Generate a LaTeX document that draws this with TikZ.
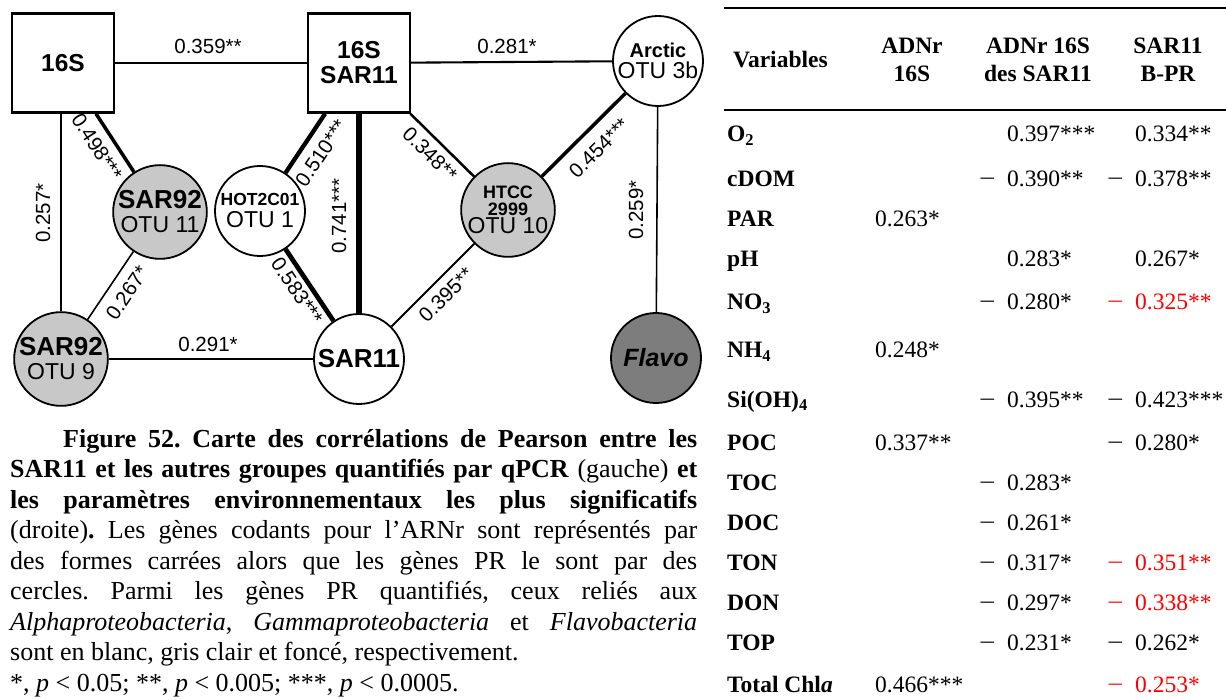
\documentclass[tikz,border=0pt]{standalone}
\usepackage{fontspec}
\setmainfont{Liberation Serif}
\newfontfamily\arial{Liberation Sans}
\definecolor{lightg}{RGB}{200,200,200}
\definecolor{darkg}{RGB}{125,125,125}
\definecolor{redv}{RGB}{255,0,0}
\newcommand\fsz[1]{\fontsize{#1}{#1}\selectfont}
\newcommand\mn{\makebox[27pt][l]{\hspace*{-1pt}\scalebox{1.25}[1]{−}}}
\newcommand\pz{\hspace*{27pt}}
\newcommand\capline[1]{\hbox to 687pt{#1}}
\frenchspacing
\begin{document}
\begin{tikzpicture}[x=1pt,y=-1pt,
  sq/.style={draw, line width=2.4pt, minimum width=102pt, minimum height=99pt, inner sep=0pt, fill=white, align=center, font=\arial\bfseries\fontsize{24.5}{25}\selectfont},
  pr/.style={circle, draw, line width=1.8pt, minimum size=90pt, inner sep=0pt, fill=white, align=center, font=\arial\fontsize{23}{24}\selectfont},
  gl/.style={fill=lightg}, gd/.style={fill=darkg},
  lbl/.style={font=\arial\fontsize{20.5}{20.5}\selectfont, inner sep=0pt},
  wa/.style={line width=1.6pt}, wb/.style={line width=2.1pt}, wc/.style={line width=2.5pt},
  wd/.style={line width=3.5pt}, we/.style={line width=4.3pt}, wf/.style={line width=6pt},
  capl/.style={anchor=base west, inner sep=0pt, font=\fontsize{26}{30}\selectfont},
  tb/.style={anchor=base west, inner sep=0pt, font=\fontsize{23.5}{26}\selectfont},
  tbh/.style={anchor=base, inner sep=0pt, font=\bfseries\fontsize{23.5}{26}\selectfont},
  tbl/.style={anchor=base west, inner sep=0pt, font=\bfseries\fontsize{23.5}{26}\selectfont},
  rl/.style={line width=2pt}
]
\useasboundingbox (0,0) rectangle (1226,700);

% ---------- graph nodes ----------
\node[sq] (s16) at (63,63) {16S};
\node[sq] (s16sar) at (359,63) {16S\\SAR11};
\node[pr] (arc) at (658,61) {{\bfseries\fsz{20}Arctic}\\[-3pt]OTU 3b};
\node[pr,gl] (o11) at (160,212) {{\bfseries\fsz{26}SAR92}\\OTU 11};
\node[pr] (hot) at (260,211) {{\bfseries\fsz{17.5}HOT2C01}\\[-2pt]OTU 1};
\node[pr,gl,font=\arial\bfseries\fontsize{18}{17}\selectfont] (htcc) at (508,210) {HTCC\\2999\\[1pt]{\mdseries\fsz{23}OTU 10}};
\node[pr,gl] (o9) at (61,359) {{\bfseries\fsz{26}SAR92}\\OTU 9};
\node[pr,font=\arial\bfseries\fsz{26}] (sar11) at (359,359) {SAR11};
\node[pr,gd,font=\arial\bfseries\itshape\fsz{25}] (flavo) at (656,358) {Flavo};

% ---------- connectors ----------
\draw[wb] (s16) -- (s16sar);
\draw[wb] (s16sar) -- (arc);
\draw[wa] (s16.south -| o9) -- (o9);
\draw[wd] (s16) -- (o11);
\draw[wa] (o11) -- (o9);
\draw[wb] (o9) -- (sar11);
\draw[we] (s16sar) -- (hot);
\draw[wf] (s16sar) -- (sar11);
\draw[we,line width=4.7pt] (hot) -- (sar11);
\draw[wc] (s16sar) -- (htcc);
\draw[wb] (htcc) -- (sar11);
\draw[wd] (htcc) -- (arc);
\draw[wa] (arc) -- (flavo);

% ---------- correlation labels ----------
\node[lbl] (l359) at (208,46) {0.359**};
\node[lbl] (l281) at (507,46) {0.281*};
\node[lbl] (l291) at (208,344) {0.291*};
\node[lbl,rotate=90] (l257) at (43,213) {0.257*};
\node[lbl,rotate=90] (l741) at (339,216) {0.741***};
\node[lbl,rotate=90] (l259) at (636,210) {0.259*};
\node[lbl,rotate=-57] (l498) at (97,147) {0.498***};
\node[lbl,rotate=56] (l267) at (127,293) {0.267*};
\node[lbl,rotate=56] (l510) at (321,153) {0.510***};
\node[lbl,rotate=-56] (l583) at (297,291) {0.583***};
\node[lbl,rotate=-45] (l348) at (430,154) {0.348**};
\node[lbl,rotate=45] (l395) at (446,295) {0.395**};
\node[lbl,rotate=45] (l454) at (599,148) {0.454***};

% ---------- caption ----------
\node[capl] (c1) at (10,447) {\capline{\hspace*{53pt}\textbf{Figure 52. Carte des corrélations de Pearson entre les}}};
\node[capl] (c2) at (10,477.5) {\capline{\textbf{SAR11 et les autres groupes quantifiés par qPCR} (gauche) \textbf{et}}};
\node[capl] (c3) at (10,508) {\capline{\textbf{les paramètres environnementaux les plus significatifs}}};
\node[capl] (c4) at (10,538.5) {\capline{(droite)\textbf{.} Les gènes codants pour l’ARNr sont représentés par}};
\node[capl] (c5) at (10,569) {\capline{des formes carrées alors que les gènes PR le sont par des}};
\node[capl] (c6) at (10,599.5) {\capline{cercles. Parmi les gènes PR quantifiés, ceux reliés aux}};
\node[capl] (c7) at (10,630) {\capline{\textit{Alphaproteobacteria}, \textit{Gammaproteobacteria} et \textit{Flavobacteria}}};
\node[capl] (c8) at (10,660.5) {\capline{sont en blanc, gris clair et foncé, respectivement.\hfil}};
\node[capl] (c9) at (10,691) {\capline{*, \textit{p} < 0.05; **, \textit{p} < 0.005; ***, \textit{p} < 0.0005.\hfil}};

% ---------- table ----------
\draw[rl] (724,8) -- (1226,8);
\draw[rl] (724,110) -- (1226,110);
\node[tbl] (hv) at (733,68) {Variables};
\node[tbh] (h1a) at (912,54) {ADNr};
\node[tbh] (h1b) at (912,82) {16S};
\node[tbh] (h2a) at (1038,54) {ADNr 16S};
\node[tbh] (h2b) at (1038,82) {des SAR11};
\node[tbh] (h3a) at (1168,54) {SAR11};
\node[tbh] (h3b) at (1168,82) {B-PR};

\node[tbl] (r1) at (727,142) {O\textsubscript{2}};
\node[tbl] (r2) at (727,187) {cDOM};
\node[tbl] (r3) at (727,227) {PAR};
\node[tbl] (r4) at (727,267) {pH};
\node[tbl] (r5) at (727,310) {NO\textsubscript{3}};
\node[tbl] (r6) at (727,358) {NH\textsubscript{4}};
\node[tbl] (r7) at (727,407) {Si(OH)\textsubscript{4}};
\node[tbl] (r8) at (727,450) {POC};
\node[tbl] (r9) at (727,490) {TOC};
\node[tbl] (r10) at (727,530) {DOC};
\node[tbl] (r11) at (727,570) {TON};
\node[tbl] (r12) at (727,610) {DON};
\node[tbl] (r13) at (727,650) {TOP};
\node[tbl] (r14) at (727,692) {Total Chl\textit{a}};

% column ADNr 16S
\node[tb] (a3) at (875,227) {0.263*};
\node[tb] (a6) at (875,358) {0.248*};
\node[tb] (a8) at (875,450) {0.337**};
\node[tb] (a14) at (875,692) {0.466***};

% column ADNr 16S des SAR11
\node[tb] (b1) at (980,142) {\pz0.397***};
\node[tb] (b2) at (980,187) {\mn0.390**};
\node[tb] (b4) at (980,267) {\pz0.283*};
\node[tb] (b5) at (980,310) {\mn0.280*};
\node[tb] (b7) at (980,407) {\mn0.395**};
\node[tb] (b9) at (980,490) {\mn0.283*};
\node[tb] (b10) at (980,530) {\mn0.261*};
\node[tb] (b11) at (980,570) {\mn0.317*};
\node[tb] (b12) at (980,610) {\mn0.297*};
\node[tb] (b13) at (980,650) {\mn0.231*};

% column SAR11 B-PR
\node[tb] (d1) at (1108,142) {\pz0.334**};
\node[tb] (d2) at (1108,187) {\mn0.378**};
\node[tb] (d4) at (1108,267) {\pz0.267*};
\node[tb,text=redv] (d5) at (1108,310) {\mn0.325**};
\node[tb] (d7) at (1108,407) {\mn0.423***};
\node[tb] (d8) at (1108,450) {\mn0.280*};
\node[tb,text=redv] (d11) at (1108,570) {\mn0.351**};
\node[tb,text=redv] (d12) at (1108,610) {\mn0.338**};
\node[tb] (d13) at (1108,650) {\mn0.262*};
\node[tb,text=redv] (d14) at (1108,692) {\mn0.253*};
\end{tikzpicture}
\end{document}
